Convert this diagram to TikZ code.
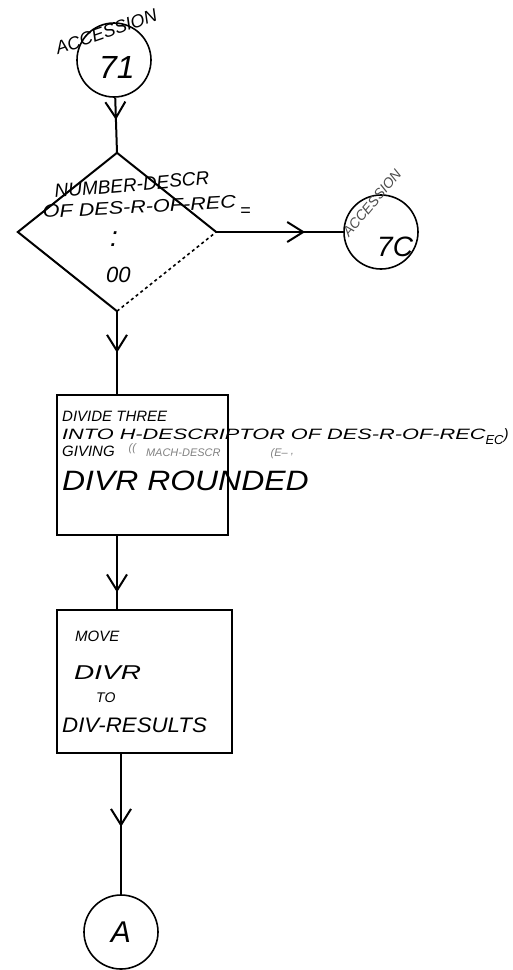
\documentclass[tikz,border=0pt]{standalone}
\usepackage{fontspec}
\setmainfont{Liberation Sans}
\usetikzlibrary{positioning,arrows.meta,shapes.geometric,decorations.markings}

\begin{document}
\begin{tikzpicture}[
  x=1pt, y=-1pt,
  every node/.style={font=\itshape},
  term/.style={circle, draw, line width=1.6pt, minimum size=74pt, inner sep=0pt,
    font=\itshape\fontsize{30}{32}\selectfont},
  decision/.style={diamond, minimum width=198pt, minimum height=158pt, inner sep=0pt},
  procbox/.style={rectangle, draw, line width=1.6pt, inner sep=0pt},
  txt/.style={anchor=base west, inner sep=0pt, font=\itshape\fontsize{#1}{#1}\selectfont},
  flow/.style={line width=2pt, postaction={decorate},
    decoration={markings, mark=at position #1 with {\arrow{Straight Barb[length=16pt,width=20pt,line width=2pt]}}}}
]
\useasboundingbox (0,0) rectangle (513,970);

% connectors and boxes
\node[term] (acc71) at (114,60) {};
\node[decision] (numtest) at (117,232) {};
\node[term] (acc7c) at (381,232) {};
\node[procbox, minimum width=171pt, minimum height=140pt] (divide) at (142.5,465) {};
\node[procbox, minimum width=175pt, minimum height=143pt] (move) at (144.5,681.5) {};
\node[term] (offA) at (121,932) {A};

% diamond edges, lower right one broken
\draw[line width=2pt] (numtest.east) -- (numtest.north) -- (numtest.west) -- (numtest.south);
\draw[line width=1.6pt, dashed] (numtest.south) -- (numtest.east);

% labels
\node[txt=18, rotate=19] (acc71lbl) at (58,55) {ACCESSION};
\node[txt=32] (num71) at (99,78) {71};
\node[txt=14, rotate=50, gray!60!black] (acc7clbl) at (349,238) {ACCESSION};
\node[txt=28] (num7c) at (377,256) {7C};
\node[txt=19, rotate=5] (desc1) at (55,198) {NUMBER-DESCR};
\node[txt=18, rotate=3] (desc2) at (43,218) {\scalebox{1.2}[1]{OF DES-R-OF-REC}};
\node[txt=18] (eqsign) at (240,216) {=};
\node[txt=28] (dots) at (110,246) {:};
\node[txt=22] (zeros) at (106,282) {00};

\node[txt=15] (div1) at (62,421) {DIVIDE THREE};
\node[txt=15] (div2) at (62,439) {\scalebox{1.45}[1]{INTO H-DESCRIPTOR OF DES-R-OF-REC}{\raisebox{-5pt}{\fontsize{13}{13}\selectfont EC}})};
\node[txt=15] (div3) at (62,456) {GIVING\hspace{14pt}{\color{gray}\fontsize{11}{11}\selectfont\raisebox{5pt}{((}\hspace{10pt}MACH-DESCR\hspace{50pt}(E-- \raisebox{2pt}{,}}};
\node[txt=28] (div4) at (62,490) {\scalebox{1.14}[1]{DIVR ROUNDED}};

\node[txt=15] (mv1) at (75,641) {MOVE};
\node[txt=20] (mv2) at (74,679) {\scalebox{1.4}[1]{DIVR}};
\node[txt=14] (mv3) at (96,702) {TO};
\node[txt=21] (mv4) at (62,732) {\scalebox{1.06}[1]{DIV-RESULTS}};

% flow lines
\draw[flow=0.4] (acc71) -- (numtest.north);
\draw[flow=0.7] (numtest.east) -- (acc7c);
\draw[flow=0.5] (numtest.south) -- (numtest.south |- divide.north);
\draw[flow=0.77] (numtest.south |- divide.south) -- (numtest.south |- move.north);
\draw[flow=0.52] (offA.north |- move.south) -- (offA);
\end{tikzpicture}
\end{document}
